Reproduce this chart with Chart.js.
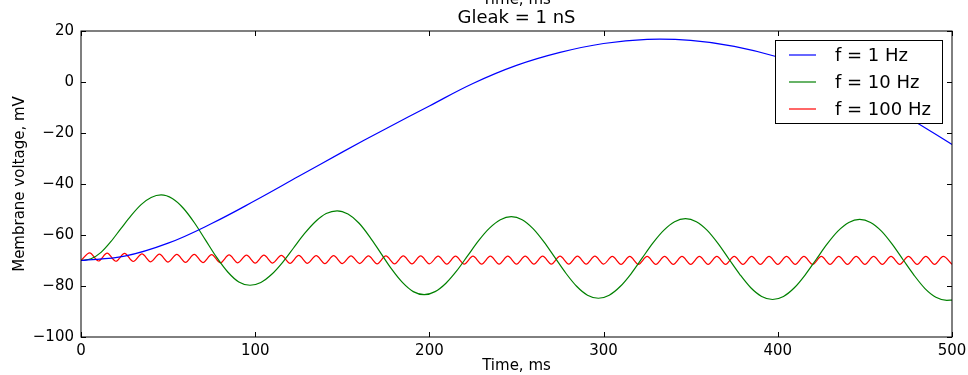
<!DOCTYPE html>
<html>
<head>
<meta charset="utf-8">
<script src="https://cdn.jsdelivr.net/npm/chart.js@4/dist/chart.umd.min.js"></script>
<style>
  html, body { margin: 0; padding: 0; background: #fff; }
</style>
</head>
<body>
<canvas id="chart" width="968" height="375"></canvas>
<script>
// ---------- data ----------
const labels = ['f = 1 Hz', 'f = 10 Hz', 'f = 100 Hz'];
const colors = ['#0000ff', '#008000', '#ff0000'];

const xTicks = [0, 100, 200, 300, 400, 500];
const yTicks = [-100, -80, -60, -40, -20, 0, 20];

// f = 1 Hz
const blueT = [0, 25, 50, 75, 100, 125, 150, 175, 200, 225, 250, 275, 300, 325, 350, 375, 400, 425, 450, 475, 500];
const blueV = [-70, -68.3, -63.2, -55.5, -46.5, -37, -27.5, -18.3, -9.4, -0.6, 6.5, 11.6, 15.1, 16.7, 16.3, 14.0, 9.8, 3.8, -4.3, -14.0, -24.5];

// f = 10 Hz
const greenT = [0, 5.75, 11.5, 17.25, 23, 28.75, 34.5, 40.25,
  46, 52.4, 58.75, 65.1, 71.5, 77.9, 84.25, 90.6,
  97, 103.25, 109.5, 115.75, 122, 128.25, 134.5, 140.75,
  147, 153.25, 159.5, 165.75, 172, 178.25, 184.5, 190.75,
  197, 203.25, 209.5, 215.75, 222, 228.25, 234.5, 240.75,
  247, 253.25, 259.5, 265.75, 272, 278.25, 284.5, 290.75,
  297, 303.25, 309.5, 315.75, 322, 328.25, 334.5, 340.75,
  347, 353.25, 359.5, 365.75, 372, 378.25, 384.5, 390.75,
  397, 403.25, 409.5, 415.75, 422, 428.25, 434.5, 440.75,
  447, 453.25, 459.5, 465.75, 472, 478.25, 484.5, 490.75,
  497, 500];
const greenV = [-70, -69.3, -66.8, -62.5, -57.4, -52.4, -48.1, -45.3,
  -44.3, -45.7, -49.5, -55.2, -62.0, -68.8, -74.5, -78.4,
  -79.7, -78.6, -75.4, -70.7, -65.1, -59.5, -54.8, -51.6,
  -50.5, -51.8, -55.3, -60.7, -67.0, -73.3, -78.6, -82.2,
  -83.4, -82.2, -78.9, -74.0, -68.1, -62.2, -57.3, -54.0,
  -52.8, -54.0, -57.5, -62.7, -68.8, -74.9, -80.1, -83.6,
  -84.8, -83.6, -80.2, -75.2, -69.2, -63.2, -58.2, -54.8,
  -53.6, -54.8, -58.2, -63.4, -69.5, -75.5, -80.7, -84.1,
  -85.3, -84.1, -80.7, -75.6, -69.6, -63.6, -58.5, -55.1,
  -53.9, -55.1, -58.5, -63.7, -69.8, -75.8, -81.0, -84.4,
  -85.6, -85.5];

// f = 100 Hz (peaks and troughs)
const redT = [0, 5, 10, 15, 20, 25, 30, 35, 40, 45, 50, 55, 60, 65, 70, 75, 80, 85, 90, 95,
  100, 105, 110, 115, 120, 125, 130, 135, 140, 145, 150, 155, 160, 165, 170, 175, 180, 185, 190, 195,
  200, 205, 210, 215, 220, 225, 230, 235, 240, 245, 250, 255, 260, 265, 270, 275, 280, 285, 290, 295,
  300, 305, 310, 315, 320, 325, 330, 335, 340, 345, 350, 355, 360, 365, 370, 375, 380, 385, 390, 395,
  400, 405, 410, 415, 420, 425, 430, 435, 440, 445, 450, 455, 460, 465, 470, 475, 480, 485, 490, 495, 500];
const redV = [-70.0, -67.0, -70.2, -67.1, -70.3, -67.2, -70.4, -67.4, -70.5, -67.5, -70.6, -67.6, -70.7, -67.6, -70.8, -67.7, -70.9, -67.8, -70.9, -67.9,
  -71.0, -67.9, -71.0, -68.0, -71.1, -68.0, -71.1, -68.1, -71.2, -68.1, -71.2, -68.2, -71.2, -68.2, -71.3, -68.2, -71.3, -68.2, -71.3, -68.2,
  -71.3, -68.3, -71.4, -68.3, -71.4, -68.3, -71.4, -68.3, -71.4, -68.3, -71.4, -68.3, -71.4, -68.3, -71.4, -68.3, -71.4, -68.3, -71.4, -68.3,
  -71.4, -68.4, -71.5, -68.4, -71.5, -68.4, -71.5, -68.4, -71.5, -68.4, -71.5, -68.4, -71.5, -68.4, -71.5, -68.4, -71.5, -68.4, -71.5, -68.4,
  -71.5, -68.4, -71.5, -68.4, -71.5, -68.4, -71.5, -68.4, -71.5, -68.4, -71.5, -68.4, -71.5, -68.4, -71.5, -68.4, -71.5, -68.4, -71.5, -68.4, -71.5];

const pts = (t, v) => t.map((x, i) => ({ x, y: v[i] }));
const series = [pts(blueT, blueV), pts(greenT, greenV), pts(redT, redV)];

const FONT = '"DejaVu Sans", sans-serif';
const minus = s => String(s).replace('-', '\u2212');

// frame, inward ticks, titles and legend drawn matplotlib-style
const decor = {
    id: 'decor',
    afterDraw(chart) {
        const { ctx, chartArea: a, scales } = chart;
        const x = scales.x, y = scales.y;
        ctx.save();
        ctx.strokeStyle = '#000';
        ctx.lineWidth = 1;
        ctx.strokeRect(a.left, a.top, a.right - a.left, a.bottom - a.top);
        ctx.beginPath();
        xTicks.forEach(v => {
            const p = Math.round(x.getPixelForValue(v)) + 0.5;
            ctx.moveTo(p, a.bottom); ctx.lineTo(p, a.bottom - 5);
            ctx.moveTo(p, a.top); ctx.lineTo(p, a.top + 5);
        });
        yTicks.forEach(v => {
            const p = Math.round(y.getPixelForValue(v)) + 0.5;
            ctx.moveTo(a.left, p); ctx.lineTo(a.left + 5, p);
            ctx.moveTo(a.right, p); ctx.lineTo(a.right - 5, p);
        });
        ctx.stroke();

        const cx = (a.left + a.right) / 2;
        ctx.fillStyle = '#000';
        ctx.textAlign = 'center';
        ctx.textBaseline = 'alphabetic';
        ctx.font = '15px ' + FONT;
        ctx.fillText('Time, ms', cx, 4);           // label of the plot above, cut off
        ctx.fillText('Time, ms', cx, 370);
        ctx.font = '18px ' + FONT;
        ctx.fillText('Gleak = 1 nS', cx, 23);
        ctx.save();
        ctx.translate(24, (a.top + a.bottom) / 2);
        ctx.rotate(-Math.PI / 2);
        ctx.font = '15px ' + FONT;
        ctx.fillText('Membrane voltage, mV', 0, 0);
        ctx.restore();

        // legend
        const lx = 775.5, ly = 40.5, lw = 167, lh = 83;
        ctx.fillStyle = '#fff';
        ctx.fillRect(lx, ly, lw, lh);
        ctx.strokeRect(lx, ly, lw, lh);
        ctx.font = '18px ' + FONT;
        ctx.textAlign = 'left';
        ctx.textBaseline = 'middle';
        chart.data.datasets.forEach((ds, i) => {
            const yy = 55 + 27 * i;
            ctx.strokeStyle = ds.borderColor;
            ctx.lineWidth = 1.2;
            ctx.beginPath();
            ctx.moveTo(789, yy); ctx.lineTo(816, yy);
            ctx.stroke();
            ctx.fillStyle = '#000';
            ctx.fillText(ds.label, 835, yy + 1);
        });
        ctx.restore();
    }
};

Chart.defaults.color = '#000';
Chart.defaults.font.family = FONT;

new Chart(document.getElementById('chart'), {
    type: 'line',
    data: {
        datasets: series.map((d, i) => ({
            label: labels[i],
            data: d,
            borderColor: colors[i],
            borderWidth: 1.2,
            pointRadius: 0,
            // 10 Hz and 100 Hz are stored around their extremes: keep extremes flat
            cubicInterpolationMode: i === 0 ? 'default' : 'monotone',
            tension: 0.4,
            fill: false
        }))
    },
    options: {
        responsive: false,
        animation: false,
        layout: { padding: { left: 0, right: 16, top: 31, bottom: 0 } },
        plugins: { legend: { display: false }, tooltip: { enabled: false } },
        scales: {
            x: {
                type: 'linear', min: 0, max: 500,
                afterFit: s => { s.height = 38; s.paddingLeft = 0; s.paddingRight = 0; },
                afterBuildTicks: s => { s.ticks = xTicks.map(value => ({ value })); },
                grid: { display: false, drawTicks: false },
                border: { display: false },
                ticks: { font: { size: 15 }, padding: 5, maxRotation: 0, callback: v => minus(v) }
            },
            y: {
                type: 'linear', min: -100, max: 20,
                afterFit: s => { s.width = 81; s.paddingTop = 0; s.paddingBottom = 0; },
                afterBuildTicks: s => { s.ticks = yTicks.map(value => ({ value })); },
                grid: { display: false, drawTicks: false },
                border: { display: false },
                ticks: { font: { size: 15 }, padding: 7, callback: v => minus(v) }
            }
        }
    },
    plugins: [decor]
});
</script>
</body>
</html>
